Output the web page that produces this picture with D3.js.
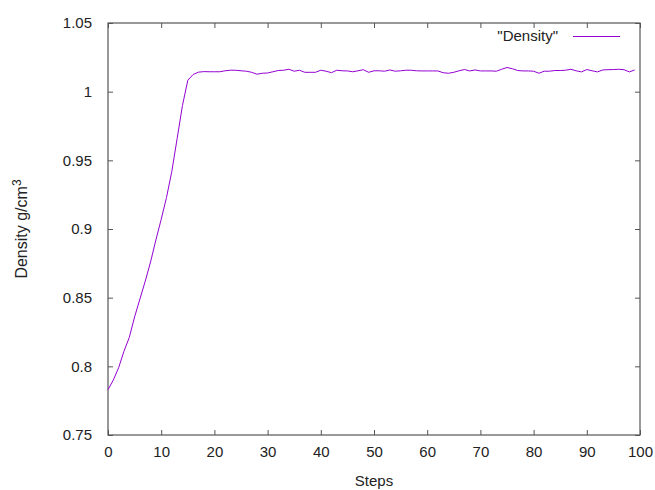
<!DOCTYPE html>
<html>
<head>
<meta charset="utf-8">
<script src="https://cdn.jsdelivr.net/npm/d3@7"></script>
<style>
  body { margin: 0; background: #fff; }
  text { font-family: "Liberation Sans", Arial, sans-serif; fill: #222; }
</style>
</head>
<body>
<div id="chart"></div>
<script>
const steps = d3.range(0, 100);
const density = [
  0.783, 0.790, 0.799, 0.811, 0.821, 0.836, 0.849, 0.862, 0.876, 0.892,
  0.907, 0.923, 0.942, 0.966, 0.990, 1.0083, 1.0125, 1.0142, 1.0146, 1.0145,
  1.0145, 1.0145, 1.0152, 1.0156, 1.0156, 1.0152, 1.0149, 1.0141, 1.0127, 1.0134,
  1.0136, 1.0145, 1.0154, 1.0156, 1.0163, 1.0149, 1.0156, 1.0141, 1.0141, 1.0141,
  1.0156, 1.0149, 1.0138, 1.0156, 1.0152, 1.0151, 1.0145, 1.0152, 1.0160, 1.0141,
  1.0152, 1.0152, 1.0149, 1.0158, 1.0149, 1.0152, 1.0156, 1.0156, 1.0152, 1.0151,
  1.0151, 1.0151, 1.0151, 1.0138, 1.0134, 1.0141, 1.0152, 1.0161, 1.0151, 1.0158,
  1.0151, 1.0151, 1.0151, 1.0149, 1.0163, 1.0176, 1.0167, 1.0154, 1.0151, 1.0151,
  1.0149, 1.0134, 1.0149, 1.0149, 1.0154, 1.0154, 1.0156, 1.0163, 1.0152, 1.0144,
  1.0161, 1.0152, 1.0144, 1.0158, 1.0160, 1.0161, 1.0163, 1.0160, 1.0144, 1.0158
];
const xTicks = d3.range(0, 101, 10);
const yTicks = [0.75, 0.8, 0.85, 0.9, 0.95, 1, 1.05];

const width = 655, height = 490;
const margin = { top: 23, right: 15, bottom: 55, left: 108 };

const svg = d3.select('#chart')
  .append('svg')
  .attr('width', width)
  .attr('height', height);

const x = d3.scaleLinear().domain([0, 100]).range([margin.left, width - margin.right]);
const y = d3.scaleLinear().domain([0.75, 1.05]).range([height - margin.bottom, margin.top]);

const fmtY = d => (d === 1 ? '1' : d3.format('.2~f')(d));

// ticks, drawn inward on all four sides
function styleAxis(g) {
  g.select('.domain').remove();
  g.selectAll('.tick line').attr('stroke', '#555').attr('stroke-width', 1);
  g.selectAll('.tick text')
    .style('font-family', '"Liberation Sans", Arial, sans-serif')
    .style('font-size', '15px')
    .attr('fill', '#222');
}

svg.append('g')
  .attr('transform', `translate(0,${y.range()[0]})`)
  .call(d3.axisBottom(x).tickValues(xTicks).tickSizeInner(-5).tickSizeOuter(0).tickPadding(11))
  .call(styleAxis);

svg.append('g')
  .attr('transform', `translate(0,${y.range()[1]})`)
  .call(d3.axisTop(x).tickValues(xTicks).tickSizeInner(-5).tickSizeOuter(0).tickFormat(''))
  .call(styleAxis);

svg.append('g')
  .attr('transform', `translate(${x.range()[0]},0)`)
  .call(d3.axisLeft(y).tickValues(yTicks).tickSizeInner(-5).tickSizeOuter(0).tickPadding(16).tickFormat(fmtY))
  .call(styleAxis);

svg.append('g')
  .attr('transform', `translate(${x.range()[1]},0)`)
  .call(d3.axisRight(y).tickValues(yTicks).tickSizeInner(-5).tickSizeOuter(0).tickFormat(''))
  .call(styleAxis);

// border
svg.append('rect')
  .attr('x', x.range()[0])
  .attr('y', y.range()[1])
  .attr('width', x.range()[1] - x.range()[0])
  .attr('height', y.range()[0] - y.range()[1])
  .attr('fill', 'none')
  .attr('stroke', '#555')
  .attr('stroke-width', 1.2);

const line = d3.line()
  .x((d, i) => x(steps[i]))
  .y(d => y(d));

svg.append('path')
  .datum(density)
  .attr('fill', 'none')
  .attr('stroke', '#9400d3')
  .attr('stroke-width', 1)
  .attr('d', line);

// legend
svg.append('text')
  .attr('x', 558)
  .attr('y', 41)
  .attr('text-anchor', 'end')
  .style('font-size', '15px')
  .text('"Density"');

svg.append('line')
  .attr('x1', 573).attr('x2', 620)
  .attr('y1', 36.5).attr('y2', 36.5)
  .attr('stroke', '#9400d3')
  .attr('stroke-width', 1);

// axis labels
svg.append('text')
  .attr('x', x(50) - 0)
  .attr('y', 486)
  .attr('text-anchor', 'middle')
  .style('font-size', '15px')
  .text('Steps');

const yl = svg.append('text')
  .attr('transform', `translate(27,${(y.range()[0] + y.range()[1]) / 2}) rotate(-90)`)
  .attr('text-anchor', 'middle')
  .style('font-size', '16px');
yl.append('tspan').text('Density g/cm');
yl.append('tspan').attr('dy', -6).style('font-size', '12px').text('3');
</script>
</body>
</html>
